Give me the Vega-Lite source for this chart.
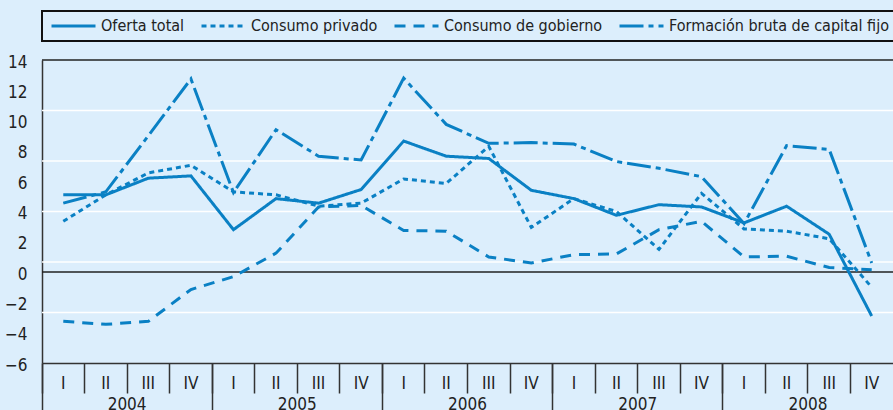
{
  "$schema": "https://vega.github.io/schema/vega-lite/v6.json",
  "width": 851,
  "height": 303,
  "autosize": {"type": "none"},
  "padding": {"left": 42, "top": 60, "right": 0, "bottom": 47},
  "background": "#DCEEFC",
  "config": {
    "view": {"stroke": null},
    "font": "DejaVu Sans Condensed, sans-serif"
  },
  "datasets": {
    "series": [
      {"q": "2004-I", "year": "2004", "serie": "Oferta total", "value": 5.1},
      {"q": "2004-II", "year": "2004", "serie": "Oferta total", "value": 5.1},
      {"q": "2004-III", "year": "2004", "serie": "Oferta total", "value": 6.2},
      {"q": "2004-IV", "year": "2004", "serie": "Oferta total", "value": 6.35},
      {"q": "2005-I", "year": "2005", "serie": "Oferta total", "value": 2.8},
      {"q": "2005-II", "year": "2005", "serie": "Oferta total", "value": 4.85},
      {"q": "2005-III", "year": "2005", "serie": "Oferta total", "value": 4.55},
      {"q": "2005-IV", "year": "2005", "serie": "Oferta total", "value": 5.45},
      {"q": "2006-I", "year": "2006", "serie": "Oferta total", "value": 8.65},
      {"q": "2006-II", "year": "2006", "serie": "Oferta total", "value": 7.65},
      {"q": "2006-III", "year": "2006", "serie": "Oferta total", "value": 7.5},
      {"q": "2006-IV", "year": "2006", "serie": "Oferta total", "value": 5.4},
      {"q": "2007-I", "year": "2007", "serie": "Oferta total", "value": 4.85},
      {"q": "2007-II", "year": "2007", "serie": "Oferta total", "value": 3.75},
      {"q": "2007-III", "year": "2007", "serie": "Oferta total", "value": 4.45},
      {"q": "2007-IV", "year": "2007", "serie": "Oferta total", "value": 4.3},
      {"q": "2008-I", "year": "2008", "serie": "Oferta total", "value": 3.25},
      {"q": "2008-II", "year": "2008", "serie": "Oferta total", "value": 4.35},
      {"q": "2008-III", "year": "2008", "serie": "Oferta total", "value": 2.5},
      {"q": "2008-IV", "year": "2008", "serie": "Oferta total", "value": -2.9},

      {"q": "2004-I", "year": "2004", "serie": "Consumo privado", "value": 3.35},
      {"q": "2004-II", "year": "2004", "serie": "Consumo privado", "value": 5.1},
      {"q": "2004-III", "year": "2004", "serie": "Consumo privado", "value": 6.55},
      {"q": "2004-IV", "year": "2004", "serie": "Consumo privado", "value": 7.05},
      {"q": "2005-I", "year": "2005", "serie": "Consumo privado", "value": 5.3},
      {"q": "2005-II", "year": "2005", "serie": "Consumo privado", "value": 5.1},
      {"q": "2005-III", "year": "2005", "serie": "Consumo privado", "value": 4.35},
      {"q": "2005-IV", "year": "2005", "serie": "Consumo privado", "value": 4.55},
      {"q": "2006-I", "year": "2006", "serie": "Consumo privado", "value": 6.15},
      {"q": "2006-II", "year": "2006", "serie": "Consumo privado", "value": 5.85},
      {"q": "2006-III", "year": "2006", "serie": "Consumo privado", "value": 8.3},
      {"q": "2006-IV", "year": "2006", "serie": "Consumo privado", "value": 2.95},
      {"q": "2007-I", "year": "2007", "serie": "Consumo privado", "value": 4.85},
      {"q": "2007-II", "year": "2007", "serie": "Consumo privado", "value": 4.0},
      {"q": "2007-III", "year": "2007", "serie": "Consumo privado", "value": 1.5},
      {"q": "2007-IV", "year": "2007", "serie": "Consumo privado", "value": 5.2},
      {"q": "2008-I", "year": "2008", "serie": "Consumo privado", "value": 2.85},
      {"q": "2008-II", "year": "2008", "serie": "Consumo privado", "value": 2.7},
      {"q": "2008-III", "year": "2008", "serie": "Consumo privado", "value": 2.2},
      {"q": "2008-IV", "year": "2008", "serie": "Consumo privado", "value": -1.0},

      {"q": "2004-I", "year": "2004", "serie": "Consumo de gobierno", "value": -3.25},
      {"q": "2004-II", "year": "2004", "serie": "Consumo de gobierno", "value": -3.45},
      {"q": "2004-III", "year": "2004", "serie": "Consumo de gobierno", "value": -3.25},
      {"q": "2004-IV", "year": "2004", "serie": "Consumo de gobierno", "value": -1.15},
      {"q": "2005-I", "year": "2005", "serie": "Consumo de gobierno", "value": -0.3},
      {"q": "2005-II", "year": "2005", "serie": "Consumo de gobierno", "value": 1.25},
      {"q": "2005-III", "year": "2005", "serie": "Consumo de gobierno", "value": 4.3},
      {"q": "2005-IV", "year": "2005", "serie": "Consumo de gobierno", "value": 4.4},
      {"q": "2006-I", "year": "2006", "serie": "Consumo de gobierno", "value": 2.75},
      {"q": "2006-II", "year": "2006", "serie": "Consumo de gobierno", "value": 2.7},
      {"q": "2006-III", "year": "2006", "serie": "Consumo de gobierno", "value": 1.0},
      {"q": "2006-IV", "year": "2006", "serie": "Consumo de gobierno", "value": 0.6},
      {"q": "2007-I", "year": "2007", "serie": "Consumo de gobierno", "value": 1.15},
      {"q": "2007-II", "year": "2007", "serie": "Consumo de gobierno", "value": 1.2},
      {"q": "2007-III", "year": "2007", "serie": "Consumo de gobierno", "value": 2.8},
      {"q": "2007-IV", "year": "2007", "serie": "Consumo de gobierno", "value": 3.35},
      {"q": "2008-I", "year": "2008", "serie": "Consumo de gobierno", "value": 1.0},
      {"q": "2008-II", "year": "2008", "serie": "Consumo de gobierno", "value": 1.05},
      {"q": "2008-III", "year": "2008", "serie": "Consumo de gobierno", "value": 0.3},
      {"q": "2008-IV", "year": "2008", "serie": "Consumo de gobierno", "value": 0.15},

      {"q": "2004-I", "year": "2004", "serie": "Formación bruta de capital fijo", "value": 4.55},
      {"q": "2004-II", "year": "2004", "serie": "Formación bruta de capital fijo", "value": 5.3},
      {"q": "2004-III", "year": "2004", "serie": "Formación bruta de capital fijo", "value": 9.0},
      {"q": "2004-IV", "year": "2004", "serie": "Formación bruta de capital fijo", "value": 12.75},
      {"q": "2005-I", "year": "2005", "serie": "Formación bruta de capital fijo", "value": 5.25},
      {"q": "2005-II", "year": "2005", "serie": "Formación bruta de capital fijo", "value": 9.4},
      {"q": "2005-III", "year": "2005", "serie": "Formación bruta de capital fijo", "value": 7.65},
      {"q": "2005-IV", "year": "2005", "serie": "Formación bruta de capital fijo", "value": 7.4},
      {"q": "2006-I", "year": "2006", "serie": "Formación bruta de capital fijo", "value": 12.8},
      {"q": "2006-II", "year": "2006", "serie": "Formación bruta de capital fijo", "value": 9.75},
      {"q": "2006-III", "year": "2006", "serie": "Formación bruta de capital fijo", "value": 8.5},
      {"q": "2006-IV", "year": "2006", "serie": "Formación bruta de capital fijo", "value": 8.55},
      {"q": "2007-I", "year": "2007", "serie": "Formación bruta de capital fijo", "value": 8.45},
      {"q": "2007-II", "year": "2007", "serie": "Formación bruta de capital fijo", "value": 7.3},
      {"q": "2007-III", "year": "2007", "serie": "Formación bruta de capital fijo", "value": 6.85},
      {"q": "2007-IV", "year": "2007", "serie": "Formación bruta de capital fijo", "value": 6.3},
      {"q": "2008-I", "year": "2008", "serie": "Formación bruta de capital fijo", "value": 3.2},
      {"q": "2008-II", "year": "2008", "serie": "Formación bruta de capital fijo", "value": 8.35},
      {"q": "2008-III", "year": "2008", "serie": "Formación bruta de capital fijo", "value": 8.1},
      {"q": "2008-IV", "year": "2008", "serie": "Formación bruta de capital fijo", "value": 0.6}
    ],
    "grid": [
      {"value": -2.667}, {"value": 0.667}, {"value": 4}, {"value": 7.333}, {"value": 10.667}
    ],
    "frame": [
      {"value": 0}, {"value": 14}
    ]
  },
  "encoding": {
    "y": {
      "field": "value",
      "type": "quantitative",
      "scale": {"domain": [-6, 14], "nice": false, "zero": false},
      "axis": {
        "title": null,
        "values": [-6, -4, -2, 0, 2, 4, 6, 8, 10, 12, 14],
        "ticks": false,
        "grid": false,
        "labelPadding": 15,
        "labelOffset": 2,
        "labelFontSize": 17,
        "labelColor": "#222222",
        "domainColor": "#333333",
        "domainWidth": 1.5
      }
    }
  },
  "layer": [
    {
      "data": {"name": "grid"},
      "mark": {"type": "rule", "color": "#FFFFFF", "strokeWidth": 1.5},
      "encoding": {}
    },
    {
      "data": {"name": "frame"},
      "mark": {"type": "rule", "color": "#222222", "strokeWidth": 1.5},
      "encoding": {}
    },
    {
      "data": {"name": "series"},
      "mark": {"type": "point", "opacity": 0},
      "encoding": {
        "x": {
          "field": "year",
          "type": "nominal",
          "sort": null,
          "scale": {"type": "band", "paddingInner": 0, "paddingOuter": 0},
          "axis": {
            "orient": "bottom",
            "title": null,
            "domain": false,
            "grid": false,
            "bandPosition": 0,
            "tickSize": 47,
            "tickColor": "#333333",
            "tickWidth": 1.5,
            "labelOffset": 0,
            "labelPadding": -14,
            "labelFontSize": 17,
            "labelColor": "#222222",
            "labelAngle": 0,
            "labelBaseline": "top"
          }
        }
      }
    },
    {
      "data": {"name": "series"},
      "mark": {"type": "line", "color": "#0A80C4", "strokeWidth": 3},
      "encoding": {
        "x": {
          "field": "q",
          "type": "nominal",
          "sort": null,
          "scale": {"type": "band", "paddingInner": 0, "paddingOuter": 0},
          "axis": {
            "orient": "bottom",
            "title": null,
            "grid": false,
            "bandPosition": 0,
            "tickSize": 30,
            "tickColor": "#333333",
            "tickWidth": 1.5,
            "domainColor": "#333333",
            "domainWidth": 1.5,
            "labelOffset": 0,
            "labelPadding": -18,
            "labelFontSize": 17,
            "labelColor": "#222222",
            "labelAngle": 0,
            "labelBaseline": "top",
            "labelExpr": "split(datum.label, '-')[1]"
          }
        },
        "strokeDash": {
          "field": "serie",
          "type": "nominal",
          "scale": {
            "domain": ["Oferta total", "Consumo privado", "Consumo de gobierno", "Formación bruta de capital fijo"],
            "range": [[1, 0], [5, 4], [11, 8], [24, 5, 5, 5]]
          },
          "legend": {
            "orient": "none",
            "legendX": 0,
            "legendY": -49,
            "direction": "horizontal",
            "title": null,
            "strokeColor": "#111111",
            "padding": 7,
            "symbolType": "M-1,0H7",
            "symbolSize": 121,
            "symbolStrokeWidth": 3,
            "symbolStrokeColor": "#0A80C4",
            "symbolFillColor": "transparent",
            "labelFontSize": 16,
            "labelColor": "#222222",
            "labelOffset": 36,
            "columnPadding": 10,
            "labelLimit": 400,
            "encode": {
              "legend": {"update": {"strokeWidth": {"value": 2}}}
            }
          }
        }
      }
    }
  ],
  "resolve": {"scale": {"x": "independent"}, "axis": {"x": "independent"}}
}
